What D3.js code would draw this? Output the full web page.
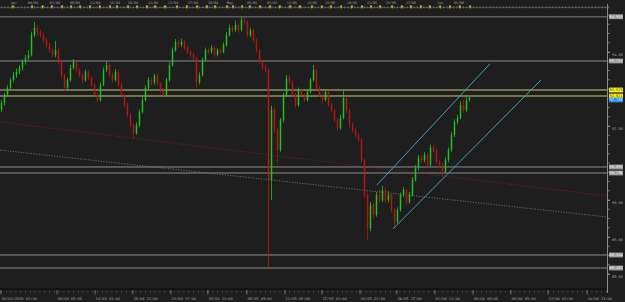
<!DOCTYPE html>
<html>
<head>
<meta charset="utf-8">
<script src="https://cdn.jsdelivr.net/npm/d3@7"></script>
<style>
html, body { margin: 0; padding: 0; background: #1e1e1e; overflow: hidden; }
svg { display: block; }
text { font-family: "DejaVu Sans Mono", "Liberation Mono", monospace; }
</style>
</head>
<body>
<div id="chart"></div>
<script>
// candles (price), one per bar slot
const opens = [92.45,92.62,92.84,93.03,93.24,93.38,93.46,93.57,93.73,93.84,93.92,94.46,94.65,94.54,94.46,94.32,94.19,94.05,93.92,94.05,
93.73,93.38,93.03,93.24,93.57,93.73,93.51,93.38,93.24,93.46,93.30,93.11,92.84,92.70,93.11,93.51,93.65,93.38,93.24,93.46,
93.11,92.84,92.57,92.30,92.03,91.81,92.03,92.38,92.70,93.03,93.24,93.19,93.35,93.14,92.97,92.84,93.24,93.65,94.05,94.27,
94.19,94.27,94.11,94.00,93.92,93.84,93.19,93.38,93.78,94.05,94.00,94.11,93.92,94.05,94.00,94.19,94.46,94.65,94.59,94.73,
94.59,94.86,94.81,94.46,94.59,94.32,94.05,93.73,93.57,93.51,90.54,92.43,91.89,91.35,92.16,92.84,93.30,93.19,92.84,92.57,
92.97,92.84,92.70,92.92,93.24,93.51,93.03,92.84,92.70,92.92,92.57,92.43,92.16,91.95,92.22,92.76,92.43,92.03,91.89,91.76,
91.62,91.08,90.14,89.24,89.86,89.59,90.14,90.00,90.27,90.00,90.14,89.73,89.41,89.73,90.14,90.27,89.95,90.14,90.54,90.86,
91.14,91.08,91.22,90.95,91.41,91.35,91.03,90.95,90.76,91.08,91.35,91.76,92.11,92.22,92.57,92.43,92.70];
const closes = [92.62,92.84,93.03,93.24,93.38,93.46,93.57,93.73,93.84,93.92,94.46,94.65,94.54,94.46,94.32,94.19,94.05,93.92,94.05,93.73,
93.38,93.03,93.24,93.57,93.73,93.51,93.38,93.24,93.46,93.30,93.11,92.84,92.70,93.11,93.51,93.65,93.38,93.24,93.46,93.11,
92.84,92.57,92.30,92.03,91.81,92.03,92.38,92.70,93.03,93.24,93.19,93.35,93.14,92.97,92.84,93.24,93.65,94.05,94.27,94.19,
94.27,94.11,94.00,93.92,93.84,93.19,93.38,93.78,94.05,94.00,94.11,93.92,94.05,94.00,94.19,94.46,94.65,94.59,94.73,94.59,
94.86,94.81,94.46,94.59,94.32,94.05,93.73,93.57,93.51,90.54,92.43,91.89,91.35,92.16,92.84,93.30,93.19,92.84,92.57,92.97,
92.84,92.70,92.92,93.24,93.51,93.03,92.84,92.70,92.92,92.57,92.43,92.16,91.95,92.22,92.76,92.43,92.03,91.89,91.76,91.62,
91.08,90.14,89.24,89.86,89.59,90.14,90.00,90.27,90.00,90.14,89.73,89.41,89.73,90.14,90.27,89.95,90.14,90.54,90.86,91.14,
91.08,91.22,90.95,91.41,91.35,91.03,90.95,90.76,91.08,91.35,91.76,92.11,92.22,92.57,92.43,92.70,92.76];
const highs = [92.70,92.90,93.10,93.30,93.46,93.55,93.65,93.80,93.92,94.05,94.55,94.81,94.72,94.60,94.52,94.38,94.25,94.12,94.30,94.10,
93.78,93.42,93.30,93.65,93.81,93.78,93.56,93.43,93.52,93.50,93.35,93.15,92.90,93.18,93.58,93.74,93.70,93.44,93.54,93.50,
93.16,92.88,92.62,92.36,92.08,92.10,92.45,92.78,93.10,93.32,93.30,93.42,93.40,93.20,93.02,93.30,93.72,94.12,94.35,94.33,
94.36,94.32,94.16,94.06,93.98,93.88,93.45,93.85,94.12,94.10,94.18,94.15,94.10,94.09,94.26,94.54,94.74,94.70,94.84,94.78,
94.95,94.93,94.85,94.66,94.63,94.36,94.08,93.78,93.65,93.56,92.55,92.50,91.95,92.22,92.90,93.38,93.36,93.24,92.90,93.04,
93.02,92.88,92.98,93.30,93.65,93.55,93.08,92.88,92.98,92.95,92.62,92.48,92.20,92.30,92.97,92.80,92.48,92.10,91.95,91.82,
91.68,91.12,90.20,89.95,89.92,90.22,90.30,90.38,90.32,90.24,90.18,89.78,89.80,90.20,90.35,90.30,90.22,90.62,90.94,91.22,
91.20,91.30,91.27,91.50,91.48,91.40,91.08,91.00,91.15,91.42,91.84,92.18,92.30,92.66,92.70,92.78,92.82];
const lows = [92.38,92.55,92.78,92.98,93.18,93.30,93.40,93.50,93.66,93.78,93.88,94.40,94.45,94.38,94.25,94.10,93.98,93.85,93.86,93.68,
93.30,92.97,92.98,93.20,93.52,93.45,93.32,93.16,93.20,93.25,93.05,92.78,92.64,92.66,93.08,93.46,93.32,93.18,93.20,93.05,
92.78,92.50,92.24,91.96,91.68,91.76,91.98,92.34,92.66,92.98,93.10,93.12,93.08,92.90,92.76,92.80,93.20,93.60,94.00,94.12,
94.14,94.05,93.94,93.86,93.78,93.03,93.12,93.33,93.74,93.94,93.95,93.86,93.88,93.95,93.96,94.14,94.42,94.52,94.55,94.53,
94.55,94.74,94.40,94.40,94.26,93.98,93.67,93.50,93.44,88.19,90.00,91.80,91.00,91.30,92.10,92.80,93.12,92.78,92.50,92.52,
92.78,92.64,92.66,92.88,93.20,92.98,92.78,92.62,92.66,92.52,92.36,92.10,91.86,91.90,92.18,92.36,91.96,91.82,91.68,91.55,
91.00,90.05,88.92,89.15,89.50,89.55,89.92,89.95,89.92,89.94,89.66,89.24,89.36,89.68,90.08,89.88,89.90,90.10,90.50,90.80,
91.00,91.02,90.88,90.90,91.28,90.96,90.86,90.62,90.72,91.02,91.30,91.70,92.05,92.18,92.36,92.38,92.66];

// horizontal levels drawn by the trader
const levelPrices = [94.953, 93.757, 92.973, 92.811, 90.892, 90.730, 88.514, 88.162];
const levelKinds = ["top", "grey", "yellow", "yellow", "grey", "grey", "grey", "grey"];
const bidPrice = 92.703;
const priceTicks = [94, 92, 90, 89, 88];

// trend lines: [bar, price]
const trendRed = [[-0.5, 92.11], [201.8, 90.11]];
const trendGrey = [[-0.5, 91.35], [201.8, 89.54]];
const channelUpper = [[125.2, 90.41], [162.8, 93.68]];
const channelLower = [[130.5, 89.22], [179.8, 93.24]];

// time labels
const topLabels = ["Apr","04/04","07/04","09/04","11/04","15/04","16/04","21/04","23/04","27/04","29/04","May",
  "05/05","07/05","11/05","13/05","15/05","19/05","21/05","25/05","27/05","Jun","03/06"];
const topLabelBars = [4.2,10.5,17.8,24.5,31.2,37.8,43.8,50.5,57.2,63.8,70.5,76.2,83.5,90.2,96.8,103.5,109.5,116.8,123.5,129.8,136.5,146.2,152.5];
const topMarkerBars = [3.8,10.2,13.7,16.8,20.2,23.2,26.2,29.5,32.8,36.2,38.5,42.2,45.2,48.5,51.2,54.5,58.5,61.8,65.2,68.5,71.2,75.2,77.2,
  80.2,82.8,86.2,89.5,92.8,96.2,99.5,103.5,106.8,109.8,113.2,116.8,120.2,123.2,126.2,130.2,133.5,136.5,139.8,142.8,146.2,149.5,152.8,156.2];
const bottomLabels = ["30/03/2020 01:00","08/04 05:00","14/04 01:00","19/04 21:00","23/04 17:00","29/04 13:00","05/05 09:00",
  "11/05 05:00","17/05 01:00","20/05 21:00","26/05 17:00","01/06 13:00","05/06 09:00","09/06 05:00","13/06 01:00","16/06 21:00"];
const bottomLabelBars = [-0.2,18.5,31.2,43.8,56.5,68.8,81.8,94.5,106.8,119.5,131.8,144.5,157.2,169.8,182.2,195.2];

const w = 625;
const h = 302;
const plotRight = 607;
const plotTop = 9;
const plotBottom = 289;
const bull = "#22c022";
const bear = "#b81616";

const svg = d3.select("#chart").append("svg")
    .attr("width", w)
    .attr("height", h);

svg.append("rect").attr("width", w).attr("height", h).attr("fill", "#1e1e1e");

const xScale = d3.scaleLinear().domain([0, 202]).range([1.5, 607.5]);
const yScale = d3.scaleLinear().domain([88, 95]).range([274, 15]);

const plot = svg.append("g");
plot.append("clipPath").attr("id", "clip")
    .append("rect").attr("x", 0).attr("y", plotTop).attr("width", plotRight).attr("height", plotBottom - plotTop);
const inner = plot.append("g").attr("clip-path", "url(#clip)");

// top time strip
svg.append("line")
    .attr("x1", 0).attr("x2", plotRight).attr("y1", 7.5).attr("y2", 7.5)
    .attr("stroke", "#4a4a4a").attr("stroke-width", 1);
svg.append("g").selectAll("line")
    .data(d3.range(0, 203, 1.1))
    .enter().append("line")
    .attr("x1", d => xScale(d)).attr("x2", d => xScale(d))
    .attr("y1", 6).attr("y2", 8.5)
    .attr("stroke", "#7a7a7a").attr("stroke-width", 0.6);
svg.append("g").selectAll("path")
    .data(topMarkerBars)
    .enter().append("path")
    .attr("d", d => `M${xScale(d) - 1.3},5.6 L${xScale(d) + 1.3},5.6 L${xScale(d)},9 Z`)
    .attr("fill", "#d8b830");
svg.append("g").selectAll("text")
    .data(topLabels)
    .enter().append("text")
    .attr("x", (d, i) => xScale(topLabelBars[i]))
    .attr("y", 4)
    .attr("text-anchor", "middle")
    .attr("font-size", 3.4)
    .attr("fill", "#a0a0a0")
    .text(d => d);

// level lines
inner.selectAll(".level")
    .data(levelPrices)
    .enter().append("line")
    .attr("class", "level")
    .attr("x1", 0).attr("x2", plotRight)
    .attr("y1", d => yScale(d)).attr("y2", d => yScale(d))
    .attr("stroke", (d, i) => levelKinds[i] === "yellow" ? "#c9c77c" : levelKinds[i] === "top" ? "#5c5c5c" : "#8c8c8c")
    .attr("stroke-width", (d, i) => levelKinds[i] === "top" ? 1.6 : 1);

// dotted trend lines
const lineGen = d3.line().x(d => xScale(d[0])).y(d => yScale(d[1]));
inner.append("path").datum(trendRed)
    .attr("d", lineGen).attr("fill", "none")
    .attr("stroke", "#8a2020").attr("stroke-width", 0.9).attr("stroke-dasharray", "1,1.6");
inner.append("path").datum(trendGrey)
    .attr("d", lineGen).attr("fill", "none")
    .attr("stroke", "#7c7c7c").attr("stroke-width", 0.9).attr("stroke-dasharray", "1,1.6");

// candles
const idx = d3.range(closes.length);
inner.append("g").selectAll("line")
    .data(idx)
    .enter().append("line")
    .attr("x1", i => xScale(i)).attr("x2", i => xScale(i))
    .attr("y1", i => yScale(highs[i])).attr("y2", i => yScale(lows[i]))
    .attr("stroke", i => closes[i] >= opens[i] ? bull : bear)
    .attr("stroke-width", 0.8);
inner.append("g").selectAll("rect")
    .data(idx)
    .enter().append("rect")
    .attr("x", i => xScale(i) - 0.75)
    .attr("width", 1.5)
    .attr("y", i => yScale(Math.max(opens[i], closes[i])))
    .attr("height", i => Math.max(0.7, Math.abs(yScale(opens[i]) - yScale(closes[i]))))
    .attr("fill", i => closes[i] >= opens[i] ? bull : bear);

// channel
[channelUpper, channelLower].forEach(c => {
    inner.append("path").datum(c)
        .attr("d", lineGen).attr("fill", "none")
        .attr("stroke", "#4aa9c0").attr("stroke-width", 0.9);
});

// plot frame
svg.append("line")
    .attr("x1", 0).attr("x2", plotRight).attr("y1", plotBottom).attr("y2", plotBottom)
    .attr("stroke", "#0c0c0c").attr("stroke-width", 1.2);
svg.append("line")
    .attr("x1", plotRight + 0.5).attr("x2", plotRight + 0.5).attr("y1", 4).attr("y2", plotBottom + 4)
    .attr("stroke", "#8a8a8a").attr("stroke-width", 1);

// right price axis
svg.append("g").selectAll("line")
    .data(d3.range(88, 95.01, 0.25))
    .enter().append("line")
    .attr("x1", plotRight).attr("x2", plotRight + 3)
    .attr("y1", d => yScale(d)).attr("y2", d => yScale(d))
    .attr("stroke", "#8a8a8a").attr("stroke-width", 0.7);
const yAxis = d3.axisRight(yScale)
    .tickValues(priceTicks)
    .tickSize(3)
    .tickFormat(d3.format(".2f"));
const yAxisG = svg.append("g")
    .attr("transform", `translate(${plotRight}, 0)`)
    .call(yAxis);
yAxisG.select(".domain").remove();
yAxisG.selectAll("line").attr("stroke", "#8a8a8a");
yAxisG.selectAll("text")
    .attr("x", 5).attr("dy", "0.9em")
    .attr("font-size", 3.6)
    .attr("font-family", "DejaVu Sans Mono")
    .attr("fill", "#a0a0a0");

// level price boxes
const boxes = svg.append("g");
levelPrices.forEach((p, i) => {
    const y = yScale(p);
    boxes.append("rect")
        .attr("x", 609).attr("y", y - 2.4).attr("width", 14).attr("height", 4.8)
        .attr("fill", levelKinds[i] === "yellow" ? "#f2ee2a" : "#9c9c9c");
    boxes.append("text")
        .attr("x", 616).attr("y", y + 1.3)
        .attr("text-anchor", "middle")
        .attr("font-size", 3.6)
        .attr("fill", levelKinds[i] === "yellow" ? "#4a4a10" : "#f0f0f0")
        .text(d3.format(".3f")(p));
});
boxes.append("rect")
    .attr("x", 609).attr("y", yScale(bidPrice) - 2.4).attr("width", 14).attr("height", 4.8)
    .attr("fill", "#2f86e0");
boxes.append("text")
    .attr("x", 616).attr("y", yScale(bidPrice) + 1.3)
    .attr("text-anchor", "middle")
    .attr("font-size", 3.6)
    .attr("fill", "#ffffff")
    .text(d3.format(".3f")(bidPrice));

// bottom time axis
svg.append("g").selectAll("line")
    .data(d3.range(0, 203, 1.6))
    .enter().append("line")
    .attr("x1", d => xScale(d)).attr("x2", d => xScale(d))
    .attr("y1", 291).attr("y2", 292.5)
    .attr("stroke", "#7a7a7a").attr("stroke-width", 0.6);
svg.append("g").selectAll("line")
    .data(bottomLabelBars)
    .enter().append("line")
    .attr("x1", d => xScale(d)).attr("x2", d => xScale(d))
    .attr("y1", 290).attr("y2", 294.5)
    .attr("stroke", "#9a9a9a").attr("stroke-width", 0.7);
svg.append("g").selectAll("text")
    .data(bottomLabels)
    .enter().append("text")
    .attr("x", (d, i) => xScale(bottomLabelBars[i]) + 0.5)
    .attr("y", 299.5)
    .attr("font-size", 3.7)
    .attr("fill", "#a0a0a0")
    .text(d => d);
</script>
</body>
</html>
